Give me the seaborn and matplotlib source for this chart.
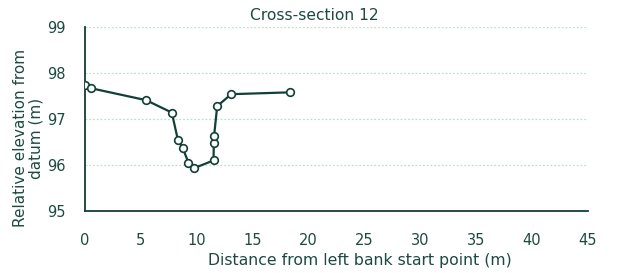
import matplotlib
matplotlib.use("Agg")
import matplotlib.pyplot as plt
import seaborn as sns
import pandas as pd

distance = [0.0, 0.54, 5.48, 7.78, 8.32, 8.74, 9.27, 9.75, 11.51, 11.54, 11.54, 11.56, 11.84, 13.09, 18.36]
elevation = [97.74, 97.67, 97.41, 97.14, 96.55, 96.38, 96.05, 95.93, 96.10, 96.37, 96.60, 96.63, 97.28, 97.54, 97.58]
x_ticks = [0, 5, 10, 15, 20, 25, 30, 35, 40, 45]
y_ticks = [95, 96, 97, 98, 99]

title = "Cross-section 12"
xlabel = "Distance from left bank start point (m)"
ylabel = "Relative elevation from\ndatum (m)"

sns.set_style("white")
plt.rcParams['font.family'] = ['DejaVu Sans']
dark = "#123f36"
text_c = "#1d4a40"

df = pd.DataFrame({"x": distance, "y": elevation})
fig = plt.figure(figsize=(6.24, 2.73), dpi=100)
ax = fig.add_axes([0.136, 0.227, 0.806, 0.674])
sns.lineplot(data=df, x="x", y="y", sort=False, ax=ax, color=dark, linewidth=1.6,
             marker="o", markersize=5.5, markerfacecolor="white",
             markeredgecolor=dark, markeredgewidth=1.2, zorder=3)
ax.set_xlim(0, 45)
ax.set_ylim(95, 99)
ax.set_xticks(x_ticks)
ax.set_yticks(y_ticks)
for y in y_ticks[1:]:
    ax.axhline(y, color="#bfe0cc", linestyle=(0, (1.5, 1.5)), linewidth=0.9, zorder=1)
for s in ["top", "right"]:
    ax.spines[s].set_visible(False)
for s in ["left", "bottom"]:
    ax.spines[s].set_color(dark)
    ax.spines[s].set_linewidth(1.3)
ax.tick_params(axis="x", direction="out", length=4, width=1, color=dark, labelsize=10.5, labelcolor=text_c, pad=12)
ax.tick_params(axis="y", direction="inout", length=7, width=1, color=dark, labelsize=10.5, labelcolor=text_c, pad=10)
ax.set_xlabel("")
ax.set_ylabel("")
fig.text(359.5 / 624, 1 - 261 / 273, xlabel, fontsize=11.3, color=text_c, ha="center", va="center")
fig.text(28 / 624, 1 - 138 / 273, ylabel, fontsize=11, color=text_c, ha="center", va="center",
         rotation=90, multialignment="center", linespacing=1.05)
fig.text(314 / 624, 1 - 16 / 273, title, fontsize=11.2, color=text_c, ha="center", va="center")
fig.savefig("out.png", dpi=100)
